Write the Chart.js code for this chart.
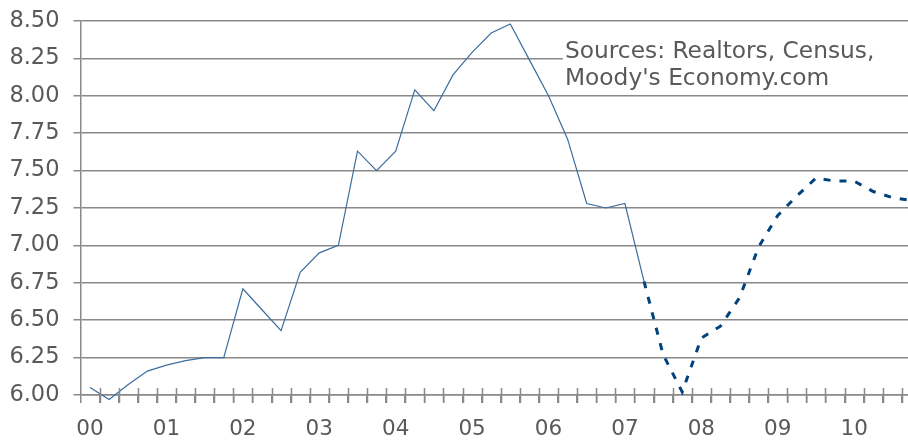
<!DOCTYPE html>
<html>
<head>
<meta charset="utf-8">
<script src="https://cdn.jsdelivr.net/npm/chart.js@4"></script>
<style>
    html, body { margin: 0; padding: 0; overflow: hidden; background: #fff; }
    #wrap { position: relative; width: 921px; height: 443px; }
</style>
</head>
<body>
<div id="wrap"><canvas id="chart"></canvas></div>
<script>
const years = ['00', '01', '02', '03', '04', '05', '06', '07', '08', '09', '10'];
const yTicks = [6.00, 6.25, 6.50, 6.75, 7.00, 7.25, 7.50, 7.75, 8.00, 8.25, 8.50];

// quarterly, 2000Q1 .. 2007Q2
const actual = [6.05, 5.97, 6.07, 6.16, 6.20, 6.23, 6.25, 6.25, 6.71, 6.57,
    6.43, 6.82, 6.95, 7.00, 7.63, 7.50, 7.63, 8.04, 7.90, 8.14,
    8.29, 8.42, 8.48, 8.24, 8.00, 7.71, 7.28, 7.25, 7.28, 6.76];

// forecast, 2007Q2 .. 2010Q4
const forecast = [6.76, 6.27, 6.02, 6.38, 6.46, 6.65, 6.99, 7.20, 7.33, 7.45,
    7.43, 7.43, 7.36, 7.32, 7.30];

const labels = years.flatMap(y => [y, '', '', '']);
const forecastData = Array(actual.length - 1).fill(null).concat(forecast);

const textGray = '#595959';
const gridGray = '#898989';

const sourceNote = {
    id: 'sourceNote',
    beforeDatasetsDraw(chart) {
        const ctx = chart.ctx;
        const top = chart.chartArea.top;
        ctx.save();
        ctx.fillStyle = '#fff';
        ctx.fillRect(563, top + 14, 400, 56);
        ctx.fillStyle = textGray;
        ctx.font = '23.3px "DejaVu Sans"';
        ctx.textBaseline = 'alphabetic';
        ctx.fillText('Sources: Realtors, Census,', 565, top + 37);
        ctx.fillText("Moody's Economy.com", 565, top + 64);
        ctx.restore();
    }
};

// x tick marks cross the axis line
const crossTicks = {
    id: 'crossTicks',
    afterDraw(chart) {
        const ctx = chart.ctx;
        const area = chart.chartArea;
        const n = labels.length;
        const step = (area.right - area.left) / n;
        ctx.save();
        ctx.strokeStyle = gridGray;
        ctx.lineWidth = 1.5;
        ctx.beginPath();
        for (let i = 1; i <= n; i++) {
            const x = Math.round(area.left + i * step) + 0.5;
            ctx.moveTo(x, area.bottom - 7);
            ctx.lineTo(x, area.bottom + 8);
        }
        ctx.stroke();
        ctx.restore();
    }
};

new Chart(document.getElementById('chart'), {
    type: 'line',
    data: {
        labels: labels,
        datasets: [{
            label: 'Actual',
            data: actual,
            borderColor: '#3b6d9d',
            borderWidth: 1.2,
            pointRadius: 0,
            tension: 0,
            clip: 6
        }, {
            label: 'Forecast',
            data: forecastData,
            borderColor: '#00427e',
            borderWidth: 3,
            borderDash: [7, 9],
            pointRadius: 0,
            tension: 0
        }]
    },
    options: {
        responsive: true,
        maintainAspectRatio: false,
        animation: false,
        layout: { padding: { top: 21, right: 0, left: 0, bottom: 0 } },
        plugins: {
            legend: { display: false },
            tooltip: { enabled: false }
        },
        scales: {
            x: {
                offset: true,
                grid: {
                    offset: true,
                    drawOnChartArea: false,
                    color: gridGray,
                    lineWidth: 1.5,
                    tickLength: 8
                },
                border: { color: gridGray, width: 1.5 },
                ticks: {
                    autoSkip: false,
                    maxRotation: 0,
                    color: textGray,
                    padding: 14,
                    font: { family: 'DejaVu Sans', size: 21.5 }
                },
                afterFit(scale) {
                    scale.height = 48;
                    scale.paddingLeft = 0;
                    scale.paddingRight = 0;
                }
            },
            y: {
                min: 6,
                max: 8.5,
                afterBuildTicks(scale) { scale.ticks = yTicks.map(v => ({ value: v })); },
                grid: {
                    color: gridGray,
                    lineWidth: 1.5,
                    tickLength: 7
                },
                border: { color: gridGray, width: 1.5 },
                ticks: {
                    color: textGray,
                    padding: 14,
                    font: { family: 'DejaVu Sans', size: 22.5 },
                    callback: v => v.toFixed(2)
                },
                afterFit(scale) {
                    scale.width = 80.5;
                    scale.paddingTop = 0;
                    scale.paddingBottom = 0;
                }
            }
        }
    },
    plugins: [sourceNote, crossTicks]
});
</script>
</body>
</html>
